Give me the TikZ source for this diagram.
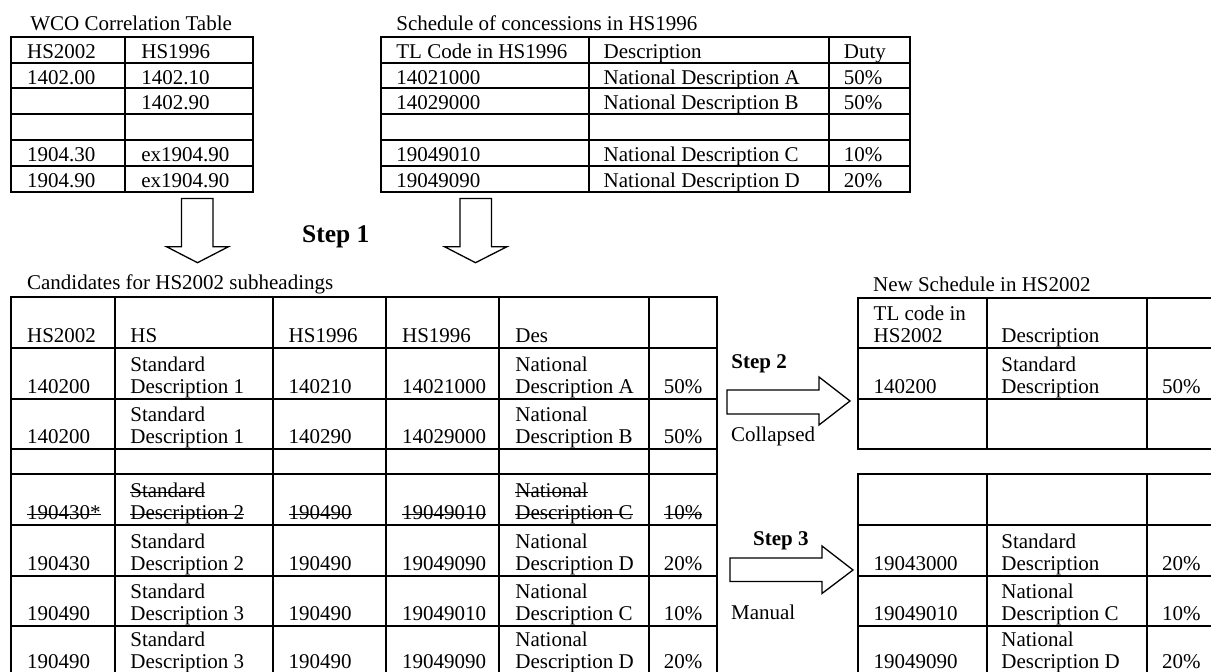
\documentclass[tikz,border=0pt]{standalone}
\usepackage{fontspec}
\setmainfont{Liberation Serif}
\usetikzlibrary{positioning}

% two stacked lines, baseline on the lower one
\newcommand{\twoline}[2]{\vbox{\baselineskip=11pt\hbox{#1}\hbox{#2}}}
% struck-through text
\newsavebox{\strikebox}
\newcommand{\struck}[1]{\sbox{\strikebox}{#1}\rlap{\usebox{\strikebox}}\rule[0.24em]{\wd\strikebox}{0.5pt}}

\begin{document}
\begin{tikzpicture}[
    x=0.5pt, y=-0.5pt,
    font=\fontsize{10.5pt}{11pt}\selectfont,
    grid/.style={line width=1pt, line cap=rect},
    cell/.style={anchor=base west, inner sep=0pt},
    caption/.style={anchor=base west, inner sep=0pt},
    steplabel/.style={anchor=base west, inner sep=0pt, font=\fontsize{10.5pt}{11pt}\selectfont\bfseries},
    blockarrow/.style={draw, line width=0.65pt, line join=miter, fill=white},
]
\useasboundingbox (0,0) rectangle (1211,672);

% WCO correlation table
\node[caption] (wco-title) at (30,30.7) {WCO Correlation Table};
\foreach \y in {36.7,62.6,88.5,114.4,140.4,166.3,192.3}
    \draw[grid] (11,\y) -- (252.7,\y);
\foreach \x in {11,125,252.7}
    \draw[grid] (\x,36.7) -- (\x,192.3);
\foreach \a/\b [count=\i] in {HS2002/HS1996, 1402.00/1402.10, {}/1402.90}
{
    \node[cell] (wco-\i-1) at (26.7,{36.7+25.93*\i-4.5}) {\a};
    \node[cell] (wco-\i-2) at (141,{36.7+25.93*\i-4.5}) {\b};
}
\foreach \a/\b [count=\i from 5] in {1904.30/ex1904.90, 1904.90/ex1904.90}
{
    \node[cell] (wco-\i-1) at (26.7,{36.7+25.93*\i-4.5}) {\a};
    \node[cell] (wco-\i-2) at (141,{36.7+25.93*\i-4.5}) {\b};
}

% schedule of concessions
\node[caption] (sched-title) at (396,30.7) {Schedule of concessions in HS1996};
\foreach \y in {36.7,62.6,88.5,114.4,140.4,166.3,192.3}
    \draw[grid] (381,\y) -- (910,\y);
\foreach \x in {381,588.5,829.3,910}
    \draw[grid] (\x,36.7) -- (\x,192.3);
\foreach \a/\b/\c [count=\i] in {TL Code in HS1996/Description/Duty,
    14021000/National Description A/50\%, 14029000/National Description B/50\%}
{
    \node[cell] (sched-\i-1) at (396,{36.7+25.93*\i-4.5}) {\a};
    \node[cell] (sched-\i-2) at (603.3,{36.7+25.93*\i-4.5}) {\b};
    \node[cell] (sched-\i-3) at (843.5,{36.7+25.93*\i-4.5}) {\c};
}
\foreach \a/\b/\c [count=\i from 5] in {19049010/National Description C/10\%,
    19049090/National Description D/20\%}
{
    \node[cell] (sched-\i-1) at (396,{36.7+25.93*\i-4.5}) {\a};
    \node[cell] (sched-\i-2) at (603.3,{36.7+25.93*\i-4.5}) {\b};
    \node[cell] (sched-\i-3) at (843.5,{36.7+25.93*\i-4.5}) {\c};
}

% Step 1
\draw[blockarrow] (181.5,198.5) -- (213,198.5) -- (213,246.7) -- (228.5,246.7)
    -- (197.5,262.7) -- (166.5,246.7) -- (181.5,246.7) -- cycle;
\draw[blockarrow] (460,198.5) -- (491.5,198.5) -- (491.5,246.7) -- (507,246.7)
    -- (475.5,262.7) -- (444.5,246.7) -- (460,246.7) -- cycle;
\node[steplabel, font=\fontsize{12.75pt}{14pt}\selectfont\bfseries] (step1) at (301.7,242.3) {Step 1};

% candidates table
\node[caption] (cand-title) at (26.7,290) {Candidates for HS2002 subheadings};
\foreach \y in {297.3,348.3,399.3,448.8,474.5,525.2,575.7,625.7,676.4}
    \draw[grid] (11,\y) -- (717.3,\y);
\foreach \x in {11,115,273.3,385.7,499.3,648.7,717.3}
    \draw[grid] (\x,297.3) -- (\x,676.4);
\node[cell] (cand-0-1) at (26.7,342.8) {HS2002};
\node[cell] (cand-0-2) at (130,342.8) {HS};
\node[cell] (cand-0-3) at (288.3,342.8) {HS1996};
\node[cell] (cand-0-4) at (401.7,342.8) {HS1996};
\node[cell] (cand-0-5) at (515,342.8) {Des};
\foreach \yb/\a/\b/\c/\d/\e/\f [count=\i] in {
    399.3/140200/{\twoline{Standard}{Description 1}}/140210/14021000/{\twoline{National}{Description A}}/50\%,
    448.8/140200/{\twoline{Standard}{Description 1}}/140290/14029000/{\twoline{National}{Description B}}/50\%,
    525.2/{\struck{190430*}}/{\twoline{\struck{Standard}}{\struck{Description 2}}}/{\struck{190490}}/{\struck{19049010}}/{\twoline{\struck{National}}{\struck{Description C}}}/{\struck{10\%}},
    575.7/190430/{\twoline{Standard}{Description 2}}/190490/19049090/{\twoline{National}{Description D}}/20\%,
    625.7/190490/{\twoline{Standard}{Description 3}}/190490/19049010/{\twoline{National}{Description C}}/10\%,
    674.5/190490/{\twoline{Standard}{Description 3}}/190490/19049090/{\twoline{National}{Description D}}/20\%}
{
    \node[cell] (cand-\i-1) at (26.7,{\yb-5.5}) {\a};
    \node[cell] (cand-\i-2) at (130,{\yb-5.5}) {\b};
    \node[cell] (cand-\i-3) at (288.3,{\yb-5.5}) {\c};
    \node[cell] (cand-\i-4) at (401.7,{\yb-5.5}) {\d};
    \node[cell] (cand-\i-5) at (515,{\yb-5.5}) {\e};
    \node[cell] (cand-\i-6) at (663.5,{\yb-5.5}) {\f};
}

% Step 2 and Step 3
\node[steplabel] (step2) at (731,368.3) {Step 2};
\draw[blockarrow] (727,390) -- (819,390) -- (819,377) -- (850,401)
    -- (819,425) -- (819,414) -- (727,414) -- cycle;
\node[caption] (collapsed) at (730.7,442) {Collapsed};
\node[steplabel] (step3) at (752.7,545.7) {Step 3};
\draw[blockarrow] (730,558) -- (822,558) -- (822,546) -- (853,570)
    -- (822,593.5) -- (822,581.5) -- (730,581.5) -- cycle;
\node[caption] (manual) at (730.7,619.3) {Manual};

% new schedule
\node[caption] (new-title) at (872.7,291.7) {New Schedule in HS2002};
\foreach \y in {298.5,348.3,399.3,448.8}
    \draw[grid] (858.3,\y) -- (1216,\y);
\foreach \x in {858.3,986.7,1146.7}
    \draw[grid] (\x,298.5) -- (\x,448.8);
\foreach \y in {474.5,525.2,575.7,625.7,676.4}
    \draw[grid] (858.3,\y) -- (1216,\y);
\foreach \x in {858.3,986.7,1146.7}
    \draw[grid] (\x,474.5) -- (\x,676.4);
\node[cell] (new-0-1) at (873.3,342.8) {\twoline{TL code in}{HS2002}};
\node[cell] (new-0-2) at (1001,342.8) {Description};
\foreach \yb/\a/\b/\c [count=\i] in {
    399.3/140200/{\twoline{Standard}{Description}}/50\%,
    575.7/19043000/{\twoline{Standard}{Description}}/20\%,
    625.7/19049010/{\twoline{National}{Description C}}/10\%,
    674.5/19049090/{\twoline{National}{Description D}}/20\%}
{
    \node[cell] (new-\i-1) at (873.3,{\yb-5.5}) {\a};
    \node[cell] (new-\i-2) at (1001,{\yb-5.5}) {\b};
    \node[cell] (new-\i-3) at (1161.7,{\yb-5.5}) {\c};
}
\end{tikzpicture}
\end{document}
